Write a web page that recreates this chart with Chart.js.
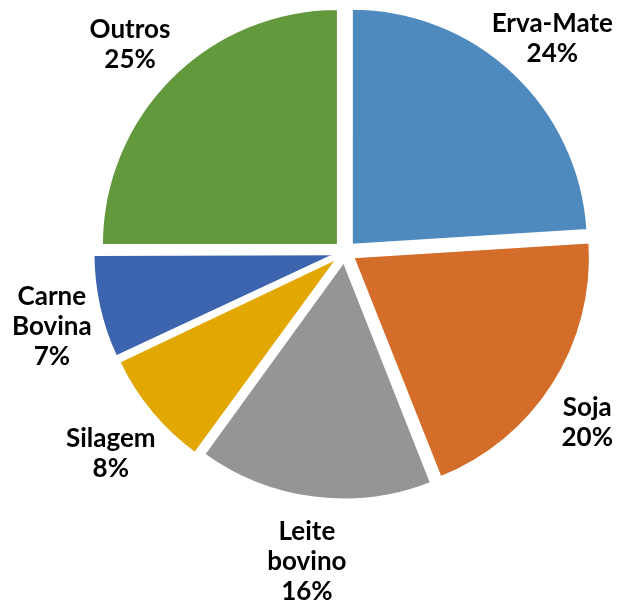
<!DOCTYPE html>
<html>
<head>
<meta charset="utf-8">
<script src="https://cdn.jsdelivr.net/npm/chart.js@4"></script>
<style>
  html, body { margin: 0; padding: 0; background: #fff; }
  #wrap { width: 625px; height: 610px; }
</style>
</head>
<body>
<div id="wrap"><canvas id="chart"></canvas></div>
<script>
const categories = [["Erva-Mate"], ["Soja"], ["Leite", "bovino"], ["Silagem"], ["Carne", "Bovina"], ["Outros"]]
const shares = [24, 20, 16, 8, 7, 25]
const colors = ["#4F8ABE", "#D46D29", "#959595", "#E2A700", "#3D64AE", "#63993D"]

// data labels outside the slices, Excel style
const outsideLabels = {
  id: "outsideLabels",
  afterDatasetsDraw(chart) {
    const ctx = chart.ctx
    const meta = chart.getDatasetMeta(0)
    ctx.save()
    ctx.font = "bold 26px Lato"
    ctx.fillStyle = "#000"
    ctx.textAlign = "center"
    ctx.textBaseline = "middle"
    meta.data.forEach((arc, i) => {
      const { x, y, startAngle, endAngle, outerRadius } =
        arc.getProps(["x", "y", "startAngle", "endAngle", "outerRadius"], true)
      const mid = (startAngle + endAngle) / 2
      const dist = outerRadius + 68
      const lines = [...categories[i], shares[i] + "%"]
      const maxW = Math.max(...lines.map(t => ctx.measureText(t).width))
      let cx = x + Math.cos(mid) * dist
      cx = Math.min(cx, chart.width - maxW / 2 - 12)
      cx = Math.max(cx, maxW / 2 + 12)
      const cy = y + Math.sin(mid) * dist + 8
      const lh = 30
      lines.forEach((t, j) => {
        ctx.fillText(t, cx, cy + (j - (lines.length - 1) / 2) * lh)
      })
    })
    ctx.restore()
  }
}

new Chart(document.getElementById("chart"), {
  type: "pie",
  data: {
    labels: categories,
    datasets: [
      {
        data: shares,
        backgroundColor: colors,
        borderColor: "#fff",
        borderWidth: 2,
        offset: 40,
        hoverOffset: 0,
      },
    ],
  },
  options: {
    responsive: true,
    maintainAspectRatio: false,
    animation: false,
    events: [],
    radius: 236,
    layout: { padding: { left: 65, right: 0, top: 0, bottom: 106 } },
    plugins: {
      legend: { display: false },
      tooltip: { enabled: false },
    },
  },
  plugins: [outsideLabels],
})
</script>
</body>
</html>
